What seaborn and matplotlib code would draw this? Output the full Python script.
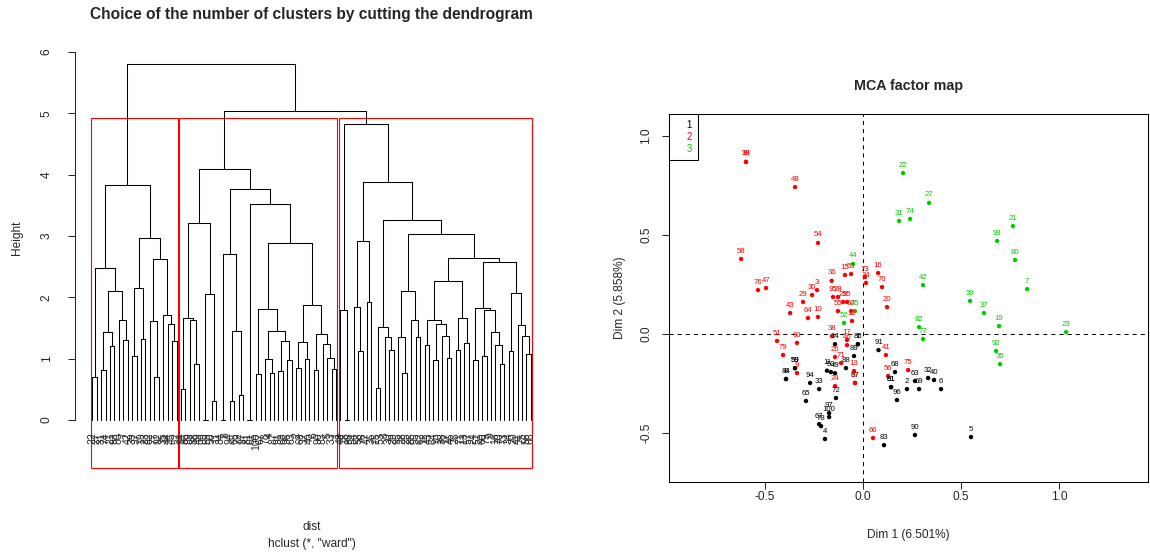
import matplotlib
matplotlib.use("Agg")
import matplotlib.pyplot as plt
from matplotlib.patches import Rectangle
from matplotlib.lines import Line2D
import numpy as np
import pandas as pd
import seaborn as sns

# ---------------- dendrogram (ward) ----------------
# a node is (height, left, right); an int is a leaf position 0..99
tree_c3 = (3.83,
           (2.48, (0.705, 0, 1),
                  (2.10, (1.43, (0.825, 2, 3), (1.205, 4, 5)),
                         (1.64, 6, (1.30, 7, 8)))),
           (2.97, (2.16, (1.04, 9, 10), (1.32, 11, 12)),
                  (2.63, (1.62, 13, (0.705, 14, 15)),
                         (1.72, 16, (1.57, 17, (1.29, 18, 19))))))

tree_c1 = (4.09,
           (3.21, (1.67, (0.505, 20, 21), (1.64, 22, (0.91, 23, 24))),
                  (2.05, (0.0, 25, 26), (0.32, 27, 28))),
           (3.77, (2.71, (0.0, 29, 30), (1.45, (0.31, 31, 32), (0.41, 33, 34))),
                  (3.52, (0.0, 35, 36),
                         (2.88,
                          (1.81, (0.75, 37, 38),
                                 (1.45, (1.0, 39, (0.77, 40, 41)),
                                        (1.29, (0.80, 42, 43), (0.98, 44, 45)))),
                          (1.87, (1.27, (0.85, 46, 47), (1.0, 48, 49)),
                                 (1.41, (0.82, 50, 51),
                                        (1.24, 52, (1.02, 53, (0.83, 54, 55)))))))))

tree_c2 = (4.82,
           (1.79, 56, (0.0, 57, 58)),
           (3.88,
            (2.92, (1.85, 59, (1.13, 60, 61)), (1.93, 62, 63)),
            (3.26,
             (1.51, (0.53, 64, 65), (1.35, 66, (1.15, 67, 68))),
             (3.04,
              (2.10, (1.35, 69, (0.77, 70, 71)), (1.64, 72, (1.35, 73, 74))),
              (2.65,
               (2.27,
                (1.64, (1.23, 75, 76),
                       (1.56, (0.98, 77, 78), (1.37, 79, (1.02, 80, 81)))),
                (1.67, (1.15, 82, 83), (1.26, 84, 85))),
               (2.58,
                (1.83, (0.98, 86, 87),
                       (1.80, (1.04, 88, 89),
                              (1.44, 90, (1.22, 91, (0.91, 92, 93))))),
                (2.07, (1.12, 94, 95),
                       (1.55, 96, (1.37, 97, (1.07, 98, 99))))))))))

h_c1_c2 = 5.04
h_root = 5.81

# leaf labels in dendrogram order
leaves_c3 = [22, 27, 31, 74, 21, 93, 80, 7, 42, 39, 37, 19, 23, 82, 77, 92, 35, 44, 45, 52]
leaves_c1 = [14, 86, 89, 88, 49, 99, 59, 50, 11, 84, 8, 94, 65, 72, 97, 81, 61, 100,
             67, 78, 4, 87, 91, 68, 96, 63, 2, 69, 32, 40, 6, 90, 83, 5, 33, 1]
leaves_c2 = [48, 18, 98, 54, 58, 76, 47, 36, 15, 53, 3, 30, 29, 95, 28, 25, 85, 55,
             62, 12, 43, 64, 10, 38, 17, 46, 26, 71, 13, 57, 24, 51, 60, 79, 9, 16,
             70, 73, 34, 20, 41, 75, 56, 66]

# ---------------- MCA individuals map ----------------
ind_c1 = [14, 86, 1, 89, 88, 49, 50, 11, 94, 99, 59, 84, 8, 33, 65, 72, 97, 100,
          67, 78, 4, 87, 91, 68, 81, 61, 96, 63, 2, 69, 32, 40, 6, 90, 83, 5]
dim1_c1 = [-0.143, -0.026, -0.026, -0.046, -0.087, -0.143, -0.164, -0.184, -0.270,
           -0.347, -0.347, -0.393, -0.393, -0.224, -0.291, -0.138, -0.173, -0.173,
           -0.224, -0.214, -0.194, -0.041, 0.079, 0.163, 0.143, 0.143, 0.173, 0.265,
           0.224, 0.286, 0.332, 0.362, 0.398, 0.265, 0.107, 0.551]
dim2_c1 = [-0.051, -0.051, -0.051, -0.111, -0.172, -0.198, -0.192, -0.185, -0.247,
           -0.172, -0.172, -0.227, -0.227, -0.278, -0.338, -0.323, -0.399, -0.419,
           -0.455, -0.465, -0.530, -0.247, -0.081, -0.192, -0.268, -0.268, -0.333,
           -0.237, -0.278, -0.278, -0.222, -0.232, -0.278, -0.510, -0.561, -0.520]

ind_c2 = [48, 18, 98, 54, 58, 76, 47, 36, 15, 53, 3, 30, 29, 95, 28, 25, 85, 55,
          62, 12, 43, 64, 10, 38, 17, 46, 26, 71, 13, 57, 24, 51, 60, 79, 9, 16,
          70, 73, 34, 20, 41, 75, 56, 66]
dim1_c2 = [-0.347, -0.597, -0.597, -0.230, -0.622, -0.536, -0.495, -0.160, -0.092,
           -0.061, -0.235, -0.260, -0.306, -0.153, -0.128, -0.102, -0.082, -0.128,
           -0.061, -0.056, -0.372, -0.281, -0.230, -0.158, -0.082, -0.082, -0.143,
           -0.112, -0.046, -0.041, -0.143, -0.439, -0.337, -0.408, -0.337, 0.077,
           0.097, 0.010, 0.015, 0.122, 0.117, 0.230, 0.128, 0.051]
dim2_c2 = [0.742, 0.869, 0.869, 0.460, 0.379, 0.222, 0.232, 0.269, 0.298, 0.303,
           0.222, 0.197, 0.162, 0.187, 0.187, 0.162, 0.162, 0.116, 0.116, 0.066,
           0.106, 0.081, 0.086, -0.010, -0.030, -0.056, -0.116, -0.146, -0.187,
           -0.247, -0.263, -0.035, -0.045, -0.106, -0.197, 0.308, 0.237, 0.288,
           0.258, 0.136, -0.106, -0.182, -0.212, -0.525]

ind_c3 = [22, 27, 31, 74, 21, 93, 80, 7, 42, 39, 37, 19, 23, 82, 77, 92, 35, 44, 45, 52]
dim1_c3 = [0.204, 0.337, 0.184, 0.240, 0.765, 0.684, 0.776, 0.837, 0.306, 0.546,
           0.617, 0.694, 1.036, 0.286, 0.306, 0.679, 0.699, -0.051, -0.041, -0.097]
dim2_c3 = [0.813, 0.662, 0.571, 0.581, 0.545, 0.470, 0.374, 0.227, 0.247, 0.167,
           0.106, 0.040, 0.010, 0.035, -0.025, -0.086, -0.152, 0.354, 0.116, 0.056]

dim1_pct = 6.501
dim2_pct = 5.858
cluster_colors = {"1": "black", "2": "red", "3": "#00CD00"}

# ---------------- style ----------------
sns.set_style("white")
plt.rcParams["font.family"] = ["Liberation Sans", "DejaVu Sans"]
plt.rcParams["axes.linewidth"] = 0.75

W, H = 1150, 558
fig = plt.figure(figsize=(W / 100, H / 100), dpi=100)


def px(x, y):
    """pixel position -> figure fraction"""
    return x / W, 1 - y / H


# ---------------- left: dendrogram ----------------
ax1 = fig.add_axes([74.8 / W, 90 / H, 473.6 / W, 420.3 / H])


def draw_node(node, ax):
    if isinstance(node, int):
        return node, 0.0
    h, left, right = node
    xl, hl = draw_node(left, ax)
    xr, hr = draw_node(right, ax)
    ax.plot([xl, xl, xr, xr], [hl, h, h, hr], color="black", lw=0.75)
    return (xl + xr) / 2, h


full_tree = (h_root, tree_c3, (h_c1_c2, tree_c1, tree_c2))
draw_node(full_tree, ax1)

leaf_labels = leaves_c3 + leaves_c1 + leaves_c2
n = len(leaf_labels)
for i, lab in enumerate(leaf_labels):
    ax1.text(i, -0.2, str(lab), rotation=90, ha="center", va="top", fontsize=7.5)

ylo, yhi = -0.78, 6.07
ax1.set_xlim(-0.04 * (n - 1), (n - 1) * 1.04)
ax1.set_ylim(ylo, yhi)

# rect.hclust boxes for k = 3
cut = (h_c1_c2 + tree_c2[0]) / 2
sizes = [len(leaves_c3), len(leaves_c1), len(leaves_c2)]
start = 0
for s in sizes:
    ax1.add_patch(Rectangle((start - 0.34, ylo), s - 0.33, cut - ylo,
                            fill=False, edgecolor="red", lw=0.8, clip_on=False))
    start += s

for side in ["top", "right", "bottom"]:
    ax1.spines[side].set_visible(False)
ax1.spines["left"].set_bounds(0, 6)
ax1.set_xticks([])
ax1.set_yticks(range(7))
ax1.tick_params(axis="y", left=True, length=5, width=0.75, labelsize=8.6,
                labelrotation=90, pad=11)
for t in ax1.get_yticklabels():
    t.set_va("center")

fig.text(*px(311.6, 14), "Choice of the number of clusters by cutting the dendrogram",
         ha="center", va="center", fontsize=11.2, fontweight="bold")
fig.text(*px(17, 238), "Height", rotation=90, ha="center", va="center", fontsize=8.6)
fig.text(*px(311.6, 527), "dist", ha="center", va="center", fontsize=8.6)
fig.text(*px(311.6, 544), 'hclust (*, "ward")', ha="center", va="center", fontsize=8.6)

# ---------------- right: MCA factor map ----------------
ax2 = fig.add_axes([669 / W, 76 / H, 479 / W, 368 / H])

df = pd.concat([
    pd.DataFrame({"ind": ind_c1, "dim1": dim1_c1, "dim2": dim2_c1, "cluster": "1"}),
    pd.DataFrame({"ind": ind_c2, "dim1": dim1_c2, "dim2": dim2_c2, "cluster": "2"}),
    pd.DataFrame({"ind": ind_c3, "dim1": dim1_c3, "dim2": dim2_c3, "cluster": "3"}),
], ignore_index=True)

ax2.axhline(0, color="black", lw=0.75, ls=(0, (3.9, 3.9)), zorder=1)
ax2.axvline(0, color="black", lw=0.75, ls=(0, (3.9, 3.9)), zorder=1)

sns.scatterplot(data=df, x="dim1", y="dim2", hue="cluster", palette=cluster_colors,
                s=10, linewidth=0, legend=False, ax=ax2, zorder=3)

for _, row in df.iterrows():
    ax2.annotate(str(row["ind"]), (row["dim1"], row["dim2"]), xytext=(0, 3.2),
                 textcoords="offset points", ha="center", va="bottom",
                 fontsize=5.6, color=cluster_colors[row["cluster"]], zorder=4)

ax2.set_xlim(-0.990, 1.454)
ax2.set_ylim(-0.747, 1.111)
ticks = [-0.5, 0.0, 0.5, 1.0]
ax2.set_xticks(ticks)
ax2.set_xticklabels([f"{t:.1f}" for t in ticks])
ax2.set_yticks(ticks)
ax2.set_yticklabels([f"{t:.1f}" for t in ticks])
ax2.tick_params(axis="both", bottom=True, left=True, length=5, width=0.75,
                labelsize=8.6)
ax2.tick_params(axis="x", pad=1.5)
ax2.tick_params(axis="y", labelrotation=90, pad=7)
for t in ax2.get_yticklabels():
    t.set_va("center")
for sp in ax2.spines.values():
    sp.set_color("black")
    sp.set_linewidth(0.75)
ax2.set_xlabel("")
ax2.set_ylabel("")

handles = [Line2D([], [], linestyle="none") for _ in cluster_colors]
leg = ax2.legend(handles, list(cluster_colors), loc="upper left", borderaxespad=0,
                 handlelength=1.2, handletextpad=0, fancybox=False, framealpha=1,
                 edgecolor="black", fontsize=7, borderpad=0.6, labelspacing=0.2)
leg.get_frame().set_linewidth(0.75)
for txt, c in zip(leg.get_texts(), cluster_colors.values()):
    txt.set_color(c)

fig.text(*px(908.5, 86), "MCA factor map", ha="center", va="center",
         fontsize=10.3, fontweight="bold")
fig.text(*px(908.5, 535), f"Dim 1 ({dim1_pct:.3f}%)", ha="center", va="center", fontsize=8.6)
fig.text(*px(620, 298), f"Dim 2 ({dim2_pct:.3f}%)", rotation=90, ha="center",
         va="center", fontsize=8.6)

fig.savefig("out.png", dpi=100)
